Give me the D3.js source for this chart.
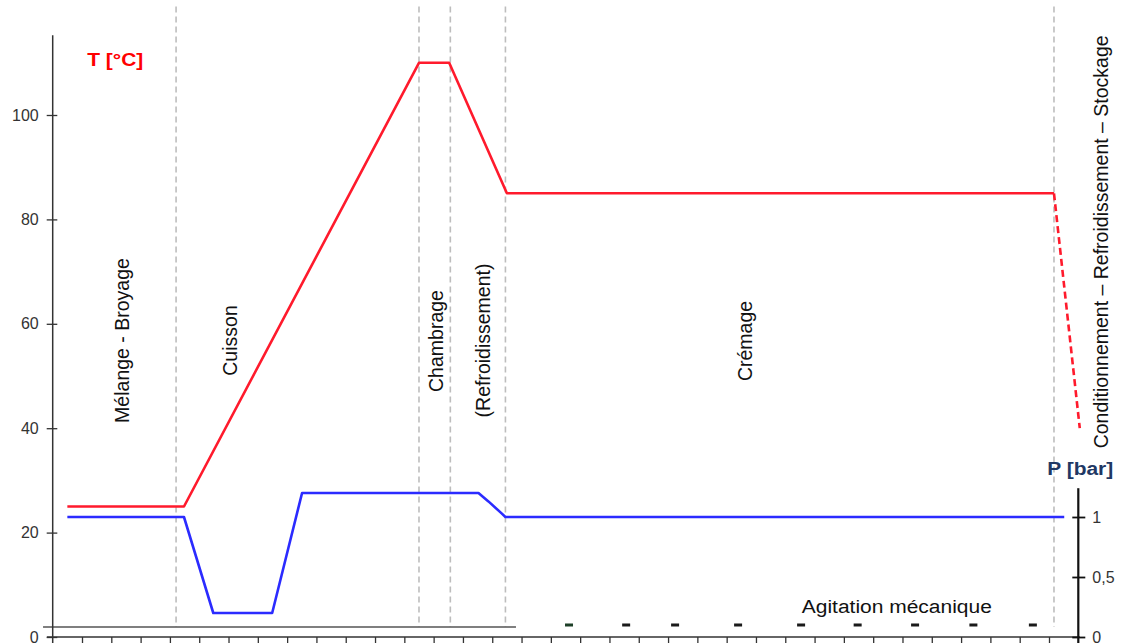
<!DOCTYPE html>
<html>
<head>
<meta charset="utf-8">
<script src="https://cdn.jsdelivr.net/npm/d3@7"></script>
<style>
  html, body { margin: 0; padding: 0; background: #fff; }
  svg { display: block; font-family: "Liberation Sans", Arial, sans-serif; }
</style>
</head>
<body>
<svg id="chart" width="1121" height="643"></svg>
<script>
// ---- data (time in arbitrary units, T in °C, P in bar) ----
const tempTime = [0.5, 4.48, 12.5, 13.53, 15.5, 34.17];
const tempValue = [25, 25, 110, 110, 85, 85];
const tempDashTime = [34.17, 35.05];
const tempDashValue = [85, 40];

const presTime = [0.5, 4.48, 5.48, 7.49, 8.51, 14.53, 14.87, 15.32, 15.45, 34.52];
const presValue = [1, 1, 0.2, 0.2, 1.2, 1.2, 1.13, 1.03, 1.0, 1.0];

const phaseBounds = [4.21, 12.5, 13.57, 15.45, 34.17];
const phaseLabels = ["Mélange - Broyage", "Cuisson", "Chambrage", "(Refroidissement)", "Crémage",
                     "Conditionnement \u2013 Refroidissement \u2013 Stockage"];
const phaseLabelTime = [2.61, 6.28, 13.32, 14.93, 23.88, 36.02];
const phaseLabelTemp = [56.8, 56.8, 56.7, 56.8, 56.7, 75.7];

const agitationTime = [17.62, 19.57, 21.24, 23.39, 25.54, 27.47, 29.43, 31.42, 33.45];

const tTicks = [0, 20, 40, 60, 80, 100];
const pTicks = [0, 0.5, 1];
const pTickLabels = ["0", "0,5", "1"];

// ---- scales ----
const svg = d3.select("#chart");
const x = d3.scaleLinear().domain([0, 35]).range([52.7, 1078.3]);
const yT = d3.scaleLinear().domain([0, 100]).range([637, 115]);
const yP = d3.scaleLinear().domain([0, 1]).range([637, 517]);

// ---- phase separators (dashed verticals) ----
svg.append("g").selectAll("line").data(phaseBounds).join("line")
  .attr("x1", d => x(d)).attr("x2", d => x(d))
  .attr("y1", yT(120.8)).attr("y2", yT(1.92))
  .attr("stroke", "#bdbdbd").attr("stroke-width", 1.6).attr("stroke-dasharray", "6,4");

// inner baseline
svg.append("line")
  .attr("x1", x(-0.33)).attr("x2", x(15.81))
  .attr("y1", yT(1.92)).attr("y2", yT(1.92))
  .attr("stroke", "#555").attr("stroke-width", 1.3);

// ---- left axis (T) ----
const gL = svg.append("g").attr("transform", `translate(${x(0)},0)`);
gL.call(d3.axisLeft(yT).tickValues(tTicks).tickSize(6).tickPadding(8))
  .call(g => g.select(".domain").remove())
  .call(g => g.selectAll(".tick line").attr("stroke", "#333").attr("stroke-width", 1.3).attr("x2", 4.6).attr("x1", -6))
  .call(g => g.selectAll(".tick text").attr("fill", "#333").attr("font-size", 16)
        .attr("font-family", "Liberation Sans, Arial, sans-serif"));
gL.append("line").attr("x1", 0).attr("x2", 0)
  .attr("y1", yT(115.3)).attr("y2", yT(-1.3))
  .attr("stroke", "#333").attr("stroke-width", 1.5);

// ---- bottom axis (time) ----
const gB = svg.append("g").attr("transform", `translate(0,${yT(0)})`);
gB.call(d3.axisBottom(x).tickValues(d3.range(1, 35)).tickSize(7).tickFormat(""))
  .call(g => g.select(".domain").remove())
  .call(g => g.selectAll(".tick line").attr("stroke", "#333").attr("stroke-width", 1.3));
gB.append("line").attr("x1", x(-0.2)).attr("x2", x(35.05)).attr("y1", 0).attr("y2", 0)
  .attr("stroke", "#333").attr("stroke-width", 1.5);

// ---- right axis (P) ----
const gR = svg.append("g").attr("transform", `translate(${x(35)},0)`);
gR.call(d3.axisRight(yP).tickValues(pTicks).tickSize(7).tickPadding(7)
        .tickFormat((d, i) => pTickLabels[i]))
  .call(g => g.select(".domain").remove())
  .call(g => g.selectAll(".tick line").attr("stroke", "#111").attr("stroke-width", 1.8).attr("x1", -6))
  .call(g => g.selectAll(".tick text").attr("fill", "#333").attr("font-size", 16)
        .attr("font-family", "Liberation Sans, Arial, sans-serif"));
gR.append("line").attr("x1", 0).attr("x2", 0)
  .attr("y1", yP(1.24)).attr("y2", yP(-0.06))
  .attr("stroke", "#111").attr("stroke-width", 2.2);

// ---- series ----
const tempData = tempTime.map((t, i) => [t, tempValue[i]]);
const tempDash = tempDashTime.map((t, i) => [t, tempDashValue[i]]);
const presData = presTime.map((t, i) => [t, presValue[i]]);

const lineT = d3.line().x(d => x(d[0])).y(d => yT(d[1]));
const lineP = d3.line().x(d => x(d[0])).y(d => yP(d[1]));

svg.append("path").datum(presData).attr("d", lineP)
  .attr("fill", "none").attr("stroke", "#2b2bff").attr("stroke-width", 2.6)
  .attr("stroke-linejoin", "round");
svg.append("path").datum(tempData).attr("d", lineT)
  .attr("fill", "none").attr("stroke", "#ff1a2c").attr("stroke-width", 2.6)
  .attr("stroke-linejoin", "round");
svg.append("path").datum(tempDash).attr("d", lineT)
  .attr("fill", "none").attr("stroke", "#ff1a2c").attr("stroke-width", 2.6)
  .attr("stroke-dasharray", "7,4");

// ---- agitation marks ----
svg.append("g").selectAll("rect").data(agitationTime).join("rect")
  .attr("x", d => x(d) - 4).attr("y", yT(2.3) - 1.5)
  .attr("width", 8).attr("height", 3)
  .attr("fill", (d, i) => i === 0 ? "#1d3f27" : "#1a1a1a");

svg.append("text").attr("x", x(25.565)).attr("y", yT(4.6))
  .attr("font-size", 18).attr("textLength", 190).attr("lengthAdjust", "spacingAndGlyphs")
  .attr("fill", "#111").text("Agitation mécanique");

// ---- phase labels (vertical) ----
svg.append("g").selectAll("text").data(phaseLabels).join("text")
  .attr("transform", (d, i) => `translate(${x(phaseLabelTime[i])},${yT(phaseLabelTemp[i])}) rotate(-90)`)
  .attr("text-anchor", "middle")
  .attr("font-size", 19.5).attr("fill", "#111")
  .text(d => d);

// ---- axis titles ----
svg.append("text").attr("x", x(1.18)).attr("y", yT(109.4))
  .attr("font-size", 19).attr("font-weight", "bold").attr("fill", "#ff0000")
  .attr("textLength", 56).attr("lengthAdjust", "spacingAndGlyphs")
  .text("T [°C]");
svg.append("text").attr("x", x(33.94)).attr("y", yP(1.35))
  .attr("font-size", 18).attr("font-weight", "bold").attr("fill", "#1f3864")
  .attr("textLength", 66).attr("lengthAdjust", "spacingAndGlyphs")
  .text("P [bar]");
</script>
</body>
</html>
